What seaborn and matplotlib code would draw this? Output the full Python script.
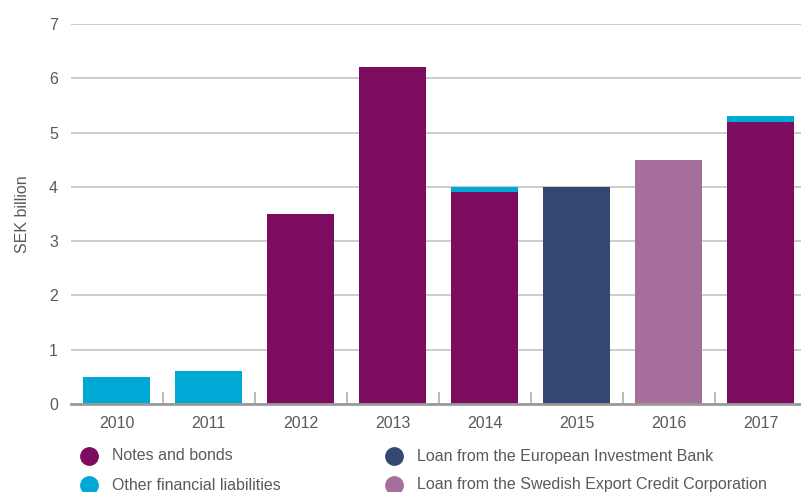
import matplotlib
matplotlib.use("Agg")
import matplotlib.pyplot as plt
from matplotlib.lines import Line2D
import seaborn as sns
import pandas as pd

years = ["2010", "2011", "2012", "2013", "2014", "2015", "2016", "2017"]
notes_and_bonds = [0.0, 0.0, 3.5, 6.2, 3.9, 0.0, 0.0, 5.2]
other_financial = [0.5, 0.6, 0.0, 0.0, 0.1, 0.0, 0.0, 0.1]
eib_loan = [0.0, 0.0, 0.0, 0.0, 0.0, 4.0, 0.0, 0.0]
sek_loan = [0.0, 0.0, 0.0, 0.0, 0.0, 0.0, 4.5, 0.0]

series_names = ["Notes and bonds", "Other financial liabilities",
                "Loan from the European Investment Bank",
                "Loan from the Swedish Export Credit Corporation"]
colors = {"Notes and bonds": "#7b0c5f",
          "Other financial liabilities": "#00a8d6",
          "Loan from the European Investment Bank": "#344773",
          "Loan from the Swedish Export Credit Corporation": "#a66e9b"}

df = pd.DataFrame({"year": years, "notes": notes_and_bonds,
                   "other": other_financial, "eib": eib_loan, "sek": sek_loan})
df["notes_plus_other"] = df["notes"] + df["other"]

sns.set_theme(style="white")
plt.rcParams["font.family"] = ["Liberation Sans", "DejaVu Sans"]
text_gray = "#5a5a5a"
fs = 11.5

fig = plt.figure(figsize=(8.01, 4.92), dpi=100)
W, H = 801, 492
ax = fig.add_axes([70.5 / W, (H - 404) / H, 736 / W, 380 / H])

bar_w = 0.73
# stacked: other financial liabilities sits on top of notes and bonds
layers = [("notes_plus_other", "Other financial liabilities"),
          ("notes", "Notes and bonds"),
          ("eib", "Loan from the European Investment Bank"),
          ("sek", "Loan from the Swedish Export Credit Corporation")]
for col, name in layers:
    sns.barplot(data=df, x="year", y=col, order=years, color=colors[name],
                width=bar_w, saturation=1, ax=ax, zorder=3, linewidth=0)

ax.set_xlim(-0.5, 7.5)
ax.set_ylim(0, 7)
ax.set_yticks(range(0, 8))
ax.yaxis.grid(True, color="#c8c8c8", linewidth=1.3, zorder=0)
ax.set_axisbelow(True)
for s in ["top", "right", "left"]:
    ax.spines[s].set_visible(False)
ax.spines["bottom"].set_color("#9a9a9a")
ax.spines["bottom"].set_linewidth(2)
ax.spines["bottom"].set_zorder(4)

ax.set_xticks(range(len(years)))
ax.set_xticklabels(years)
ax.set_xticks([i + 0.5 for i in range(len(years) - 1)], minor=True)
ax.tick_params(axis="x", which="major", length=0, pad=9, labelsize=fs, labelcolor=text_gray)
ax.tick_params(axis="x", which="minor", direction="in", length=9, width=1.3,
               color="#b4b4b4", bottom=True)
ax.tick_params(axis="y", length=0, pad=9, labelsize=fs, labelcolor=text_gray)
ax.set_xlabel("")
ax.set_ylabel("SEK billion", fontsize=fs, color=text_gray)
ax.yaxis.set_label_coords((30 - 70.5) / 736, 0.5)

# legend: two columns of dot + label, placed in pixel positions
legend_pos = [(89, 456), (89, 485), (394, 456), (394, 485)]
for name, (px, py) in zip(series_names, legend_pos):
    fig.add_artist(Line2D([px / W], [1 - py / H], transform=fig.transFigure,
                          marker="o", linestyle="", markersize=12.5,
                          markerfacecolor=colors[name], markeredgecolor=colors[name]))
    fig.text((px + 23) / W, 1 - py / H, name, fontsize=fs, color=text_gray,
             ha="left", va="center")

fig.savefig("out.png", dpi=100)
